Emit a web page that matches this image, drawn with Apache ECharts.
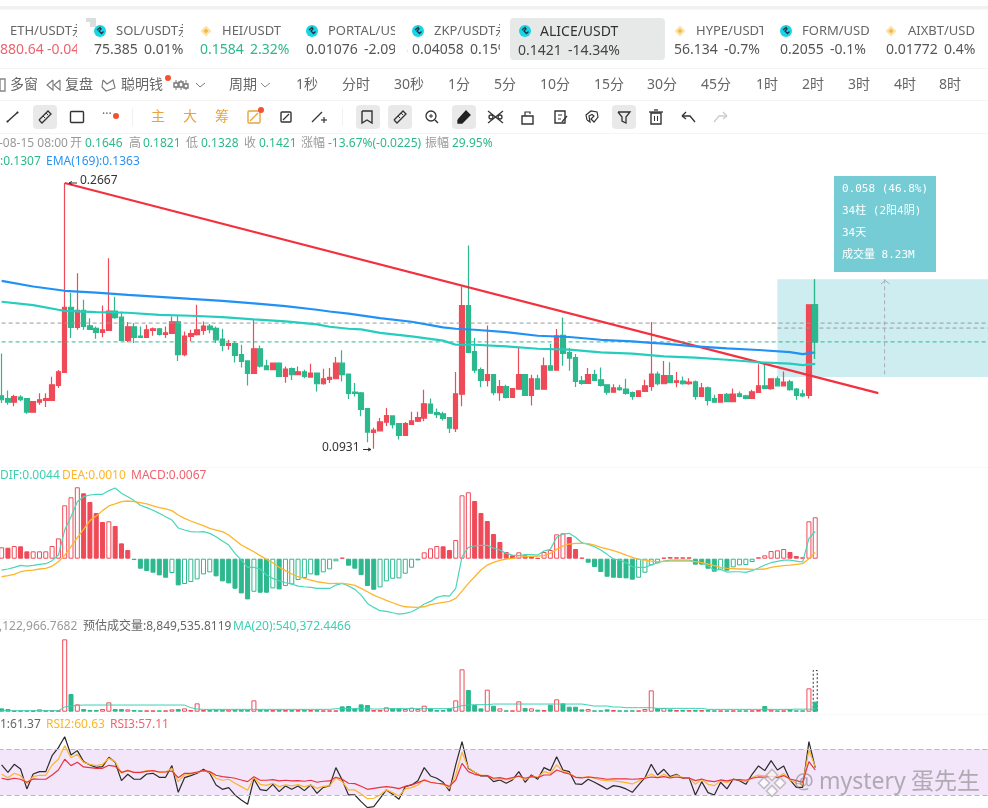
<!DOCTYPE html>
<html><head><meta charset="utf-8">
<style>html,body{margin:0;padding:0;background:#fff}#c{width:988px;height:808px}</style>
<script src="https://cdn.jsdelivr.net/npm/echarts@6/dist/echarts.min.js"></script>
</head><body><div id="c"></div>
<script>
// [open, close, low, high]
const candles=[
[.1148,.1130,.1116,.1357],[.1135,.1119,.1108,.1172],[.1119,.1144,.1101,.1153],[.1142,.1130,.1123,.1150],[.1135,.1076,.1069,.1135],[.1076,.1122,.1076,.1122],[.1119,.1130,.1108,.1159],[.1127,.1135,.1098,.1159],[.1127,.1199,.1127,.1238],[.1196,.1262,.1184,.1271],
[.1259,.1630,.1259,.2667],[.1630,.1505,.1443,.1724],[.1505,.1611,.1491,.1866],[.1611,.1511,.1491,.1679],[.1515,.1493,.1491,.1561],[.1499,.1475,.1439,.1511],[.1475,.1491,.1447,.1642],[.1487,.1605,.1487,.1980],[.1605,.1565,.1557,.1699],[.1567,.1430,.1430,.1603],
[.1430,.1509,.1419,.1537],[.1509,.1447,.1415,.1531],[.1454,.1447,.1443,.1511],[.1447,.1491,.1443,.1521],[.1487,.1497,.1456,.1505],[.1497,.1464,.1458,.1501],[.1464,.1473,.1443,.1511],[.1470,.1539,.1470,.1571],[.1539,.1351,.1318,.1576],[.1351,.1454,.1342,.1481],
[.1452,.1468,.1424,.1491],[.1462,.1491,.1458,.1646],[.1487,.1513,.1462,.1541],[.1513,.1491,.1471,.1525],[.1499,.1433,.1415,.1511],[.1437,.1401,.1369,.1497],[.1401,.1411,.1378,.1433],[.1411,.1347,.1310,.1424],[.1351,.1315,.1284,.1405],[.1318,.1254,.1196,.1318],
[.1254,.1383,.1254,.1551],[.1383,.1291,.1284,.1401],[.1293,.1273,.1273,.1324],[.1273,.1306,.1273,.1310],[.1306,.1239,.1238,.1311],[.1239,.1276,.1209,.1289],[.1278,.1248,.1222,.1284],[.1248,.1262,.1245,.1289],[.1262,.1239,.1231,.1273],[.1236,.1256,.1236,.1303],
[.1256,.1204,.1168,.1256],[.1204,.1228,.1199,.1278],[.1225,.1235,.1207,.1281],[.1228,.1306,.1228,.1338],[.1306,.1248,.1215,.1375],[.1251,.1159,.1133,.1251],[.1165,.1159,.1145,.1207],[.1161,.1088,.1058,.1165],[.1091,.0994,.0955,.1094],[.0993,.1002,.0931,.1011],
[.0999,.1035,.0997,.1051],[.1034,.1061,.1018,.1094],[.1060,.1024,.1008,.1062],[.1028,.0981,.0965,.1031],[.0981,.1028,.0981,.1035],[.1025,.1039,.1024,.1077],[.1038,.1053,.1035,.1077],[.1051,.1112,.1038,.1176],[.1111,.1071,.1069,.1135],[.1074,.1065,.1051,.1091],
[.1069,.1049,.1041,.1077],[.1053,.1010,.0990,.1053],[.1008,.1157,.0994,.1261],[.1155,.1640,.1101,.1770],[.1640,.1363,.1360,.2081],[.1367,.1270,.1256,.1443],[.1273,.1220,.1187,.1284],[.1220,.1248,.1191,.1517],[.1248,.1162,.1150,.1248],[.1162,.1190,.1126,.1222],
[.1190,.1141,.1135,.1199],[.1141,.1181,.1141,.1184],[.1178,.1248,.1178,.1387],[.1248,.1150,.1147,.1251],[.1150,.1228,.1104,.1248],[.1228,.1178,.1176,.1248],[.1178,.1293,.1178,.1336],[.1293,.1270,.1270,.1411],[.1270,.1456,.1270,.1495],[.1458,.1358,.1293,.1565],
[.1362,.1333,.1268,.1387],[.1335,.1215,.1188,.1355],[.1218,.1205,.1199,.1241],[.1205,.1248,.1205,.1281],[.1248,.1220,.1218,.1273],[.1223,.1196,.1191,.1284],[.1199,.1164,.1153,.1202],[.1164,.1184,.1162,.1202],[.1184,.1176,.1171,.1199],[.1179,.1159,.1153,.1228],
[.1162,.1145,.1130,.1168],[.1145,.1171,.1145,.1171],[.1168,.1194,.1168,.1223],[.1191,.1251,.1171,.1537],[.1251,.1204,.1196,.1264],[.1204,.1243,.1204,.1318],[.1243,.1209,.1206,.1311],[.1210,.1218,.1187,.1261],[.1217,.1204,.1199,.1239],[.1204,.1212,.1199,.1231],
[.1213,.1145,.1130,.1220],[.1145,.1184,.1145,.1207],[.1185,.1127,.1105,.1191],[.1135,.1119,.1119,.1153],[.1119,.1153,.1119,.1153],[.1154,.1122,.1119,.1161],[.1122,.1156,.1122,.1181],[.1157,.1145,.1141,.1168],[.1147,.1136,.1132,.1153],[.1136,.1166,.1136,.1176],
[.1163,.1194,.1163,.1301],[.1194,.1182,.1181,.1306],[.1181,.1228,.1176,.1231],[.1228,.1194,.1194,.1239],[.1194,.1212,.1191,.1264],[.1213,.1176,.1171,.1223],[.1179,.1150,.1130,.1184],[.1157,.1147,.1141,.1176],[.1150,.1646,.1135,.1646],[.1646,.1421,.1328,.1821]
];
const emaBlueIdx=[0,5,10,15,20,25,30,35,40,45,50,52,55,60,65,70,72,75,80,85,90,95,100,103,105,110,115,120,125,127,129];
const emaBlue=[.1810,.1770,.1740,.1728,.1712,.1699,.1685,.1672,.1655,.1637,.1614,.1603,.1590,.1561,.1539,.1505,.1497,.1491,.1477,.1456,.1449,.1433,.1424,.1415,.1411,.1396,.1385,.1376,.1365,.1354,.1363];
const emaTealIdx=[0,5,9,10,15,20,25,30,35,40,45,50,52,55,57,60,65,70,72,75,80,85,90,95,100,105,110,115,120,125,127,129];
const emaTeal=[.1666,.1644,.1614,.1607,.1599,.1595,.1582,.1576,.1568,.1554,.1541,.1523,.1509,.1497,.1493,.1473,.1452,.1428,.1405,.1405,.1396,.1383,.1378,.1363,.1356,.1342,.1335,.1324,.1311,.1304,.1296,.1303];
const trendFrom=[10,.2667], trendTo=[139,.1160];
const macdBars=[
.00184,.00178,.00205,.00200,.00119,.00119,.00119,.00119,.00205,.00329,
.00864,.00994,.01156,.01058,.00918,.00740,.00594,.00605,.00529,.00248,
.00140,-.00022,-.00162,-.00200,-.00227,-.00270,-.00308,-.00232,-.00432,-.00410,
-.00378,-.00335,-.00254,-.00221,-.00286,-.00367,-.00400,-.00486,-.00562,-.00659,
-.00535,-.00551,-.00551,-.00481,-.00497,-.00443,-.00416,-.00346,-.00313,-.00254,
-.00270,-.00221,-.00173,-.00043,.00016,-.00113,-.00162,-.00265,-.00443,-.00502,
-.00464,-.00367,-.00324,-.00319,-.00243,-.00146,-.00027,.00103,.00167,.00205,
.00200,.00140,.00302,.01026,.01075,.00934,.00740,.00610,.00400,.00270,
.00108,.00054,.00103,.00054,.00043,.00011,.00108,.00140,.00394,.00410,
.00351,.00157,.00016,-.00065,-.00135,-.00216,-.00292,-.00308,-.00313,-.00319,
-.00340,-.00308,-.00227,-.00108,-.00076,.00016,.00027,.00022,.00022,.00022,
-.00097,-.00097,-.00162,-.00211,-.00178,-.00194,-.00140,-.00108,-.00103,-.00054,
.00022,.00054,.00124,.00135,.00157,.00108,.00043,.00022,.00605,.00670];
const dif=[
-.00184,-.00167,-.00140,-.00108,-.00119,-.00108,-.00092,-.00081,-.00032,.00059,
.00464,.00680,.00923,.01004,.01031,.01042,.01042,.01102,.01145,.01058,
.01004,.00940,.00864,.00826,.00783,.00734,.00680,.00626,.00497,.00464,
.00437,.00432,.00437,.00410,.00356,.00286,.00221,.00086,-.00022,-.00140,
-.00140,-.00167,-.00265,-.00319,-.00356,-.00389,-.00410,-.00443,-.00454,-.00464,
-.00481,-.00481,-.00481,-.00427,-.00400,-.00443,-.00497,-.00589,-.00724,-.00788,
-.00842,-.00853,-.00875,-.00896,-.00886,-.00859,-.00805,-.00734,-.00691,-.00626,
-.00599,-.00605,-.00481,.00032,.00184,.00205,.00216,.00216,.00173,.00140,
.00086,.00059,.00049,.00065,.00065,.00059,.00124,.00151,.00346,.00400,
.00410,.00346,.00259,.00232,.00194,.00140,.00070,-.00005,-.00022,-.00065,
-.00130,-.00140,-.00140,-.00103,-.00065,-.00038,-.00022,-.00022,-.00022,-.00022,
-.00049,-.00065,-.00119,-.00184,-.00173,-.00216,-.00211,-.00211,-.00221,-.00194,
-.00151,-.00103,-.00065,-.00043,-.00022,-.00022,-.00038,-.00054,.00329,.00440];
const dea=[
-.00292,-.00275,-.00254,-.00211,-.00194,-.00184,-.00167,-.00157,-.00119,-.00049,
.00054,.00194,.00340,.00475,.00616,.00691,.00778,.00853,.00886,.00923,
.00934,.00923,.00907,.00886,.00853,.00826,.00805,.00778,.00707,.00653,
.00610,.00572,.00535,.00491,.00464,.00437,.00383,.00302,.00221,.00167,
.00113,.00049,-.00011,-.00065,-.00140,-.00194,-.00248,-.00292,-.00319,-.00346,
-.00373,-.00389,-.00405,-.00400,-.00400,-.00410,-.00432,-.00481,-.00535,-.00589,
-.00632,-.00675,-.00713,-.00751,-.00778,-.00783,-.00788,-.00778,-.00745,-.00724,
-.00707,-.00691,-.00643,-.00524,-.00400,-.00292,-.00184,-.00103,-.00059,-.00027,
-.00005,.00005,.00022,.00032,.00038,.00043,.00049,.00086,.00151,.00205,
.00238,.00248,.00248,.00243,.00221,.00184,.00157,.00130,.00097,.00059,
.00022,-.00011,-.00022,-.00038,-.00049,-.00043,-.00038,-.00038,-.00038,-.00038,
-.00049,-.00065,-.00086,-.00113,-.00140,-.00157,-.00162,-.00167,-.00167,-.00173,
-.00173,-.00167,-.00140,-.00124,-.00113,-.00103,-.00092,-.00081,.00000,.00100];
const volume=[
708000,566000,212000,212000,212000,212000,495000,283000,283000,283000,
15353000,3750000,1557000,566000,354000,354000,566000,1981000,566000,566000,
495000,354000,283000,283000,283000,283000,283000,495000,566000,708000,
354000,1769000,354000,354000,425000,425000,425000,425000,425000,425000,
2406000,425000,425000,354000,425000,354000,354000,354000,425000,354000,
354000,283000,283000,283000,1132000,1203000,708000,1557000,1415000,354000,
354000,920000,708000,708000,566000,849000,566000,1274000,708000,354000,
354000,708000,2406000,8985000,4599000,1415000,708000,4670000,1274000,708000,
283000,283000,2193000,778000,708000,425000,354000,1486000,2618000,1769000,
1061000,1061000,495000,566000,283000,283000,495000,354000,283000,283000,
283000,283000,566000,4528000,708000,778000,495000,354000,354000,354000,
354000,354000,354000,283000,283000,283000,283000,283000,283000,283000,
354000,1203000,425000,283000,283000,495000,283000,283000,4953000,2122967];
const estimatedVolumeLast=8849535.8119;
const volumeMA=[
212000,212000,212000,212000,212000,212000,212000,212000,212000,212000,
991000,1203000,1344000,1415000,1415000,1415000,1415000,1415000,1415000,1415000,
1415000,1415000,1415000,1415000,1415000,1415000,1415000,1415000,1415000,1415000,
849000,566000,495000,495000,495000,495000,495000,495000,495000,495000,
495000,495000,495000,495000,495000,495000,495000,495000,495000,495000,
495000,495000,495000,637000,637000,637000,637000,637000,637000,566000,
566000,637000,637000,637000,637000,637000,637000,637000,637000,637000,
637000,637000,920000,1274000,1415000,1486000,1486000,1486000,1627000,1627000,
1627000,1627000,1627000,1627000,1627000,1627000,1627000,1627000,1627000,1627000,
1627000,1627000,1627000,1415000,1203000,1203000,1203000,991000,991000,849000,
849000,849000,849000,849000,708000,708000,708000,708000,708000,708000,
708000,708000,495000,495000,495000,495000,495000,495000,495000,495000,
495000,495000,495000,495000,495000,495000,540372,540372,540372,540372];
const rsi1=[
59.6,50.0,60.4,54.3,28.3,47.8,50.9,50.9,71.7,82.2,
96.5,72.6,78.3,63.9,59.6,56.5,57.4,69.6,63.0,39.1,
47.4,40.9,40.9,47.8,48.7,43.5,43.5,58.7,23.9,43.0,
45.7,48.7,53.9,48.7,33.5,27.8,30.0,20.4,13.9,8.3,
41.3,27.4,26.1,34.3,24.8,32.2,27.8,32.2,26.1,33.5,
22.6,30.4,32.2,56.1,40.0,20.4,20.4,11.7,3.9,5.2,
16.1,27.0,21.3,14.8,31.3,33.5,39.1,56.1,45.2,42.2,
37.0,25.6,59.6,90.0,55.2,50.0,45.2,45.7,37.8,40.0,
35.7,40.0,50.9,37.0,46.5,40.9,56.1,52.2,70.4,53.0,
50.9,34.8,34.3,40.9,37.0,32.6,27.8,32.6,31.3,28.3,
23.9,33.5,43.0,60.4,46.5,53.9,44.3,47.4,42.2,43.0,
20.4,37.8,23.5,20.4,37.0,28.3,41.3,39.1,34.3,47.4,
58.3,52.2,65.2,53.0,58.3,40.0,30.4,30.4,90.0,56.1];
const rsi2=[
47.4,43.0,48.7,45.7,35.7,44.3,46.1,46.1,59.6,67.0,
84.8,69.1,73.5,63.0,60.4,58.7,60.4,68.3,63.9,48.7,
53.0,49.6,49.6,52.2,52.2,50.0,50.4,55.2,37.8,46.5,
47.8,50.0,52.2,50.0,42.2,39.6,40.9,35.7,31.3,26.5,
43.5,34.3,33.0,35.7,31.3,33.5,32.2,33.9,30.9,33.5,
29.1,31.7,32.2,43.0,37.8,27.0,27.0,21.7,15.6,16.1,
20.4,27.0,23.5,19.1,28.3,30.0,33.5,40.9,37.0,35.7,
34.3,29.1,46.5,76.1,56.1,50.0,46.1,46.1,40.9,41.3,
40.0,41.3,45.7,40.0,45.2,43.0,50.9,48.7,59.6,50.9,
48.7,43.9,43.0,44.3,42.2,40.0,39.1,38.7,37.8,36.5,
34.8,38.7,43.0,47.8,43.0,47.4,43.0,46.5,43.0,43.0,
34.3,40.9,34.3,32.6,39.1,36.5,40.9,40.0,37.8,43.0,
46.5,45.2,48.7,43.0,48.7,40.0,35.7,34.3,79.1,57.4];
const rsi3=[
42.2,40.4,42.2,40.9,37.0,41.3,40.9,40.9,46.5,53.0,
67.0,58.7,63.0,57.0,56.1,55.2,55.2,59.1,57.8,50.0,
52.2,50.0,50.0,51.3,52.2,50.4,50.4,51.7,43.0,48.7,
48.7,50.4,52.2,50.9,46.1,44.3,43.5,42.2,40.0,37.8,
44.3,39.6,39.6,40.4,38.7,39.6,38.7,39.1,38.3,39.6,
37.0,38.3,38.7,43.5,40.9,35.7,35.2,31.7,27.8,29.1,
30.4,31.3,30.4,28.7,31.7,33.5,36.5,39.6,37.0,35.7,
34.8,31.7,40.0,61.7,50.9,47.4,45.7,45.7,42.2,43.0,
41.3,43.0,44.8,42.2,44.3,43.0,46.5,46.5,53.0,50.0,
47.8,43.5,42.6,43.9,43.0,42.2,40.9,41.3,41.3,41.3,
40.9,41.3,42.2,43.9,43.0,44.3,42.6,43.9,42.6,42.6,
39.1,41.3,38.7,37.8,40.0,38.7,40.4,40.4,39.6,42.2,
43.9,43.5,45.2,43.0,45.7,41.3,39.1,37.0,63.9,53.0];
const refLevels={lastClose:.1421,upper:.1531,measureMid:.1501,measureTop:.1821,measureBottom:.1236};

const SLOTS=158; const categories=[]; for(let i=0;i<SLOTS;i++)categories.push(String(i));
const RED='#ef4a58',GREEN='#2db88e',TEALTXT='#3fcfb2',ORANGE='#fdb52b',SALMON='#f0636f',BLUE='#2a93f2',GRAYT='#9a9a9a';
const pick=(ix,vs)=>ix.map((k,n)=>[categories[k],vs[n]]);
const histStyle=macdBars.map((v,i)=>{const p=i?macdBars[i-1]:v;const c=v>=0?RED:GREEN;
 const hollow=v>p||(v===p&&v>0);return {value:v,itemStyle:{color:hollow?'#fff':c,borderColor:c,borderWidth:1}}});
const volStyle=volume.map((v,i)=>{const up=candles[i][1]>=candles[i][0];
 return {value:v,itemStyle:{color:up?'#fff':GREEN,borderColor:up?RED:GREEN,borderWidth:1}}});
const estVol=volume.map((v,i)=>i===volume.length-1?estimatedVolumeLast:null);
const lastCandleOnly=candles.map((c,i)=>i===candles.length-1?c:'-');

const FONT='"Noto Sans","Noto Sans CJK SC"';
const g=[];
const T=(x,y,s,c,fs=12,o={})=>g.push({type:'text',x,y,silent:true,z:60,style:Object.assign({text:s,fill:c,font:(o.w||'normal')+' '+fs+'px '+(o.f||FONT),textVerticalAlign:'middle'},o.s||{})});
const R=(x,y,w,h,fill,r=0,stroke)=>g.push({type:'rect',silent:true,z:60,shape:{x,y,width:w,height:h,r},style:{fill:fill||'none',stroke:stroke||null,lineWidth:stroke?1.4:0}});
const P=(pts,stroke='#333',lw=1.3,fill)=>g.push({type:'polyline',silent:true,z:60,shape:{points:pts},style:{stroke,lineWidth:lw,fill:fill||null}});
const C=(cx,cy,r,fill,stroke)=>g.push({type:'circle',silent:true,z:60,shape:{cx,cy,r},style:{fill:fill||'none',stroke:stroke||null,lineWidth:stroke?1.3:0}});
const D=(cx,cy,r,fill,stroke)=>g.push({type:'polygon',silent:true,z:60,shape:{points:[[cx-r,cy],[cx,cy-r],[cx+r,cy],[cx,cy+r]]},style:{fill:fill||'none',stroke:stroke||null,lineWidth:stroke?1.6:0}});

// header chrome
R(0,6,988,3.5,'#f1f1f1');
[68,100,133].forEach(y=>R(0,y,988,1,'#f4f4f4'));
R(510,18,155,42,'#e7e8e8',4);
const coin=(x)=>{C(x,31,6,'#17d5e6');P([[x-3,30],[x,27.5],[x+1,29],[x-1,31],[x+1.5,33.5],[x+3.5,31.5]],'#27313a',1.3)};
const bnb=(x)=>{D(x,31,5.5,'#fbe3b0');D(x,31,2.5,'#f4b93f')};
[100,312,418,786,525].forEach(coin);[206,680,891].forEach(bnb);
R(86,18,10,9,'#dcdcdc',1);
const HC='#666',VC='#555';
T(10,31,'ETH/USDT永',HC,13);T(116,31,'SOL/USDT永',HC,13);T(222,31,'HEI/USDT',HC,13);T(328,31,'PORTAL/US',HC,13);T(434,31,'ZKP/USDT永',HC,13);
T(540,32,'ALICE/USDT','#333',14);T(696,31,'HYPE/USDT',HC,13);T(802,31,'FORM/USD',HC,13);T(908,31,'AIXBT/USD',HC,13);
T(-8,50,'3880.64',SALMON,14);T(47,50,'-0.04%',SALMON,14);
T(94,50,'75.385',VC,14);T(144,50,'0.01%',VC,14);
T(200,50,'0.1584',GREEN,14);T(250,50,'2.32%',GREEN,14);
T(306,50,'0.01076',VC,14);T(364,50,'-2.09%',VC,14);
T(412,50,'0.04058',VC,14);T(470,50,'0.15%',VC,14);
T(518,51,'0.1421','#444',14);T(568,51,'-14.34%','#444',14);
T(674,50,'56.134',VC,14);T(724,50,'-0.7%',VC,14);
T(780,50,'0.2055',VC,14);T(830,50,'-0.1%',VC,14);
T(886,50,'0.01772',VC,14);T(944,50,'0.4%',VC,14);
// clip edges of the ticker cells
[[77,13],[183,14],[395,12],[500,10],[763,10],[870,8],[975,13]].forEach(([x,w])=>R(x,22,w,36,'#fff'));
// interval row
const RC='#666';
R(0,79,5,12,null,0,'#888');
T(10,85,'多窗',RC,14);
P([[53,80],[47,85],[53,90],[53,80]],'#777',1.1);P([[60,80],[54,85],[60,90],[60,80]],'#777',1.1);
T(65,85,'复盘',RC,14);
P([[103,80],[107,84],[113,80],[115,88],[106,91],[102,87],[103,80]],'#777',1.1);
T(121,85,'聪明钱',RC,14);C(168,78,3,'#f4512c');
P([[176,80],[176,90]],'#777',1);P([[181,80],[181,90]],'#777',1);P([[186,80],[186,90]],'#777',1);R(174,83,4,4,'#fff',0,'#777');R(179,82,4,5,'#fff',0,'#777');R(184,84,4,4,'#fff',0,'#777');
P([[196,83],[200,87],[205,83]],'#777',1);
T(229,85,'周期',RC,14);P([[261,83],[265,87],[270,83]],'#888',1);
[['1秒',296],['分时',342],['30秒',394],['1分',448],['5分',494],['10分',540],['15分',594],['30分',647],['45分',701],['1时',756],['2时',802],['3时',848],['4时',894],['8时',939]].forEach(([s,x])=>T(x,85,s,RC,14));
// drawing toolbar
[33,356,388,452,612].forEach(x=>R(x,105,24,24,'#e9e9e9',4));
P([[7,122],[18,112]],'#333',1.4);C(7.5,121.5,1,'#333');C(17.5,112.5,1,'#333');
const y0=117;
const ruler=(x)=>{P([[x-6,y0+3],[x+3,y0-6],[x+6,y0-3],[x-3,y0+6],[x-6,y0+3]],'#333',1.3);P([[x-2,y0-1],[x,y0+1]],'#333',1);P([[x+1,y0-4],[x+3,y0-2]],'#333',1)};
ruler(45);ruler(400);
R(70.5,111.5,13,11,null,1,'#333');
T(102,115,'···','#666',12);C(116,116,3,'#f4512c');
R(132,108,1,18,'#f0f0f0');R(342,108,1,18,'#f0f0f0');
const OG='#e8a33d';T(151,117,'主',OG,14);T(183,117,'大',OG,14);T(215,117,'筹',OG,14);
R(248,111,12,12,null,1,OG);P([[250,121],[258,113]],OG,1.2);C(261,110,3,'#f4512c');
R(281,112,10,10,null,1,'#333');P([[283,120],[289,114]],'#333',1.2);
P([[312,122],[322,112]],'#333',1.3);P([[321,120],[327,120]],'#333',1.2);P([[324,117],[324,123]],'#333',1.2);
P([[362,111],[362,123],[367,120],[372,123],[372,111],[362,111]],'#333',1.4);
C(431,116,5,null,'#333');P([[435,120],[438,123]],'#333',1.4);P([[429,116],[433,116]],'#333',1);P([[431,114],[431,118]],'#333',1);
P([[458,120],[466,111],[470,115],[462,123],[458,123],[458,120]],'#222',1.3,'#222');
C(491,117,2,null,'#333');C(500,117,2,null,'#333');P([[488,111],[503,123]],'#333',1.2);P([[503,111],[488,123]],'#333',1.2);
R(522,116,11,8,null,0,'#333');P([[525,116],[525,112],[530,112],[530,114]],'#333',1.2);
R(555,111,10,12,null,0,'#333');P([[558,115],[562,115]],'#333',1);P([[558,119],[561,119]],'#333',1);P([[562,122],[567,116]],'#333',1.3);
P([[587,120],[586,115],[591,111],[597,112],[598,117],[594,122],[591,119],[594,116],[592,114.5],[589,116],[590,122],[587,120]],'#333',1.2);
P([[618,112],[630,112],[626,117],[626,123],[622,121],[622,117],[618,112]],'#333',1.3);
R(651,113,10,11,null,0,'#333');P([[649,112],[663,112]],'#333',1.3);P([[654,110],[658,110]],'#333',1.3);P([[654.5,116],[654.5,121]],'#333',1);P([[657.5,116],[657.5,121]],'#333',1);
P([[682,116],[686,112]],'#333',1.3);P([[682,116],[686,119]],'#333',1.3);P([[682,116],[690,116],[695,122]],'#333',1.3);
P([[727,116],[723,112]],'#ccc',1.3);P([[727,116],[723,119]],'#ccc',1.3);P([[727,116],[719,116],[714,122]],'#ccc',1.3);
// quote lines
T(-1,144,'-08-15 08:00',GRAYT,12);
[['开',70,'0.1646',85],['高',129,'0.1821',143],['低',186,'0.1328',201],['收',244,'0.1421',259]].forEach(([a,x,b,x2])=>{T(x,144,a,GRAYT,12);T(x2,144,b,GREEN,12)});
T(301,144,'涨幅',GRAYT,12);T(328,144,'-13.67%(-0.0225)',GREEN,12);T(425,144,'振幅',GRAYT,12);T(452,144,'29.95%',GREEN,12);
T(0,162,':0.1307',GREEN,12);T(46,162,'EMA(169):0.1363',BLUE,12);
// extrema
T(80,181,'0.2667','#333',12);P([[69,183],[77,183]],'#333',1);P([[69,183],[72,181.5]],'#333',1);P([[69,183],[72,184.5]],'#333',1);
T(322,448,'0.0931','#333',12);P([[363,449.5],[371,449.5]],'#333',1);P([[371,449.5],[368,448]],'#333',1);P([[371,449.5],[368,451]],'#333',1);
// measuring tool label
R(834,176,102,96,'#75ccd5');
const MONO='"DejaVu Sans Mono","Noto Sans CJK SC"';
[['0.058 (46.8%)',189],['34柱 (2阳4阴)',211],['34天',233],['成交量 8.23M',255]].forEach(([s,y])=>T(842,y,s,'#fff',11,{f:MONO}));
P([[881,284],[885.3,280.5],[889.5,284]],'#aab',1);
// pane legends
R(0,467,988,1,'#f8f8f8');R(0,619,988,1,'#f6f6f6');R(0,714,988,1,'#f9f9f9');
T(0,476,'DIF:0.0044',TEALTXT,12);T(62,476,'DEA:0.0010',ORANGE,12);T(131,476,'MACD:0.0067',SALMON,12);
T(-1,627,',122,966.7682',GRAYT,12);T(83,627,'预估成交量:8,849,535.8119','#666',12);T(233,627,'MA(20):540,372.4466',TEALTXT,12);
T(0,725,'1:61.37','#666',12);T(46,725,'RSI2:60.63',ORANGE,12);T(110,725,'RSI3:57.11',SALMON,12);
// watermark
[[772,775],[764,783],[780,783],[772,791]].forEach(([x,y])=>D(x,y,5.5,'rgba(255,255,255,.75)','rgba(170,170,170,.7)'));
const wm={shadowColor:'rgba(255,255,255,.9)',shadowBlur:2,shadowOffsetX:1,shadowOffsetY:1};
T(794,783,'@','rgba(130,130,130,.6)',22,{s:wm});
T(819,782,'mystery','rgba(130,130,130,.6)',23,{s:wm});
T(911,782,'蛋先生','rgba(130,130,130,.6)',23,{s:wm});

const hiddenX=i=>({type:'category',gridIndex:i,data:categories,show:false,boundaryGap:true});
const hiddenY=(i,o)=>Object.assign({gridIndex:i,show:false,splitLine:{show:false}},o);
const L=-1.52,W=996.5;
const line=(i,data,color,w,z)=>({type:'line',xAxisIndex:i,yAxisIndex:i,data,showSymbol:false,symbol:'none',silent:true,z:z||4,connectNulls:true,lineStyle:{color,width:w},itemStyle:{color}});
const dashLine=(a,b,v,c,z)=>{const s=line(0,[[categories[a],v],[categories[b],v]],c,1,z);s.lineStyle.type=[4,3];return s};
const gridAt=(top,height)=>({left:L,width:W,top,height,outerBoundsMode:'none',containLabel:false});
const candleStyle={color:RED,color0:GREEN,borderColor:RED,borderColor0:GREEN,borderWidth:1.2};

const option={
 animation:false,
 grid:[gridAt(165,295),gridAt(467,152),gridAt(633,78.7),gridAt(734,76.6)],
 xAxis:[0,1,2,3].map(hiddenX),
 yAxis:[
  hiddenY(0,{type:'log',min:.0890,max:.2864}),
  hiddenY(1,{type:'value',min:-.00976,max:.01484}),
  hiddenY(2,{type:'value',min:0,max:16700000}),
  hiddenY(3,{type:'value',min:0,max:100})],
 graphic:{elements:g},
 series:[
  {type:'candlestick',xAxisIndex:0,yAxisIndex:0,data:candles,barWidth:5,silent:true,z:2,itemStyle:candleStyle},
  dashLine(0,157,refLevels.upper,'#9a9a9a',3),
  dashLine(0,157,refLevels.lastClose,GREEN,6),
  dashLine(123,157,refLevels.measureMid,'#9a9aa6',6),
  line(0,[trendFrom,trendTo].map(([k,v])=>[categories[k],v]),'#f5303e',2.2,3),
  line(0,pick(emaTealIdx,emaTeal),'#25cdbd',2.2,6),
  line(0,pick(emaBlueIdx,emaBlue),'#2192f5',2.2,6),
  {type:'line',xAxisIndex:0,yAxisIndex:0,z:5,silent:true,symbol:'none',lineStyle:{opacity:0},
   data:[[categories[123],refLevels.measureTop],[categories[157],refLevels.measureBottom]],
   markArea:{silent:true,itemStyle:{color:'rgba(117,204,213,.36)'},data:[[{coord:[categories[123],refLevels.measureTop]},{coord:[categories[157],refLevels.measureBottom]}]]}},
  (()=>{const s=line(0,[[categories[140],refLevels.measureTop],[categories[140],refLevels.measureBottom]],'#aaaabb',1,6);s.lineStyle.type=[4,3];return s})(),
  {type:'candlestick',xAxisIndex:0,yAxisIndex:0,data:lastCandleOnly,barWidth:5,silent:true,z:6,itemStyle:candleStyle},
  {type:'bar',xAxisIndex:1,yAxisIndex:1,data:histStyle,barWidth:5,silent:true,z:2},
  line(1,dif,'#48d6ba',1.2,4),
  line(1,dea,ORANGE,1.3,4),
  {type:'bar',xAxisIndex:2,yAxisIndex:2,data:estVol,barWidth:5,barGap:'-100%',silent:true,z:1,
   itemStyle:{color:'rgba(255,255,255,0)',borderColor:'#333',borderWidth:1,borderType:[2,2]}},
  {type:'bar',xAxisIndex:2,yAxisIndex:2,data:volStyle,barWidth:5,barGap:'-100%',silent:true,z:2},
  line(2,volumeMA,'#39d0b4',1,4),
  {type:'line',xAxisIndex:3,yAxisIndex:3,z:1,silent:true,symbol:'none',lineStyle:{opacity:0},data:[],
   markArea:{silent:true,itemStyle:{color:'#f3e6fb'},data:[[{yAxis:80},{yAxis:20}]]},
   markLine:{silent:true,symbol:'none',label:{show:false},lineStyle:{color:'#b9b9b9',type:[5,3],width:1},data:[{yAxis:80},{yAxis:20}]}},
  line(3,rsi1,'#2b2b2b',1.2,4),
  line(3,rsi2,ORANGE,1.2,5),
  line(3,rsi3,'#e8323f',1.2,6)
 ]
};
const chart=echarts.init(document.getElementById('c'),null,{renderer:'canvas',width:988,height:808});
chart.setOption(option);
</script></body></html>
